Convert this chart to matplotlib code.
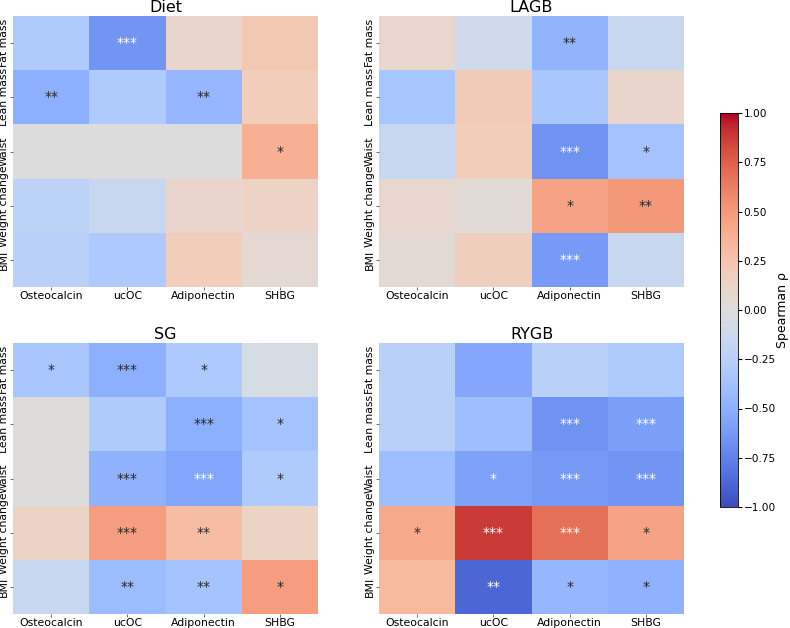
import numpy as np
import matplotlib
matplotlib.use("Agg")
import matplotlib.pyplot as plt

outcomes = ["Fat mass", "Lean mass", "Waist", "Weight change", "BMI"]
markers = ["Osteocalcin", "ucOC", "Adiponectin", "SHBG"]
groups = ["Diet", "LAGB", "SG", "RYGB"]

# Spearman rho per group (rows = outcomes, cols = markers)
rho_diet = [[-0.30, -0.65, 0.10, 0.22],
            [-0.50, -0.30, -0.45, 0.18],
            [0.00, 0.00, 0.00, 0.38],
            [-0.22, -0.15, 0.10, 0.13],
            [-0.24, -0.32, 0.18, 0.06]]
rho_lagb = [[0.08, -0.10, -0.47, -0.15],
            [-0.35, 0.20, -0.33, 0.10],
            [-0.15, 0.18, -0.67, -0.37],
            [0.08, 0.04, 0.45, 0.50],
            [0.05, 0.17, -0.62, -0.15]]
rho_sg = [[-0.33, -0.50, -0.32, -0.05],
          [0.01, -0.30, -0.50, -0.36],
          [0.01, -0.48, -0.56, -0.30],
          [0.12, 0.48, 0.30, 0.12],
          [-0.15, -0.42, -0.36, 0.48]]
rho_rygb = [[-0.25, -0.55, -0.25, -0.30],
            [-0.24, -0.40, -0.67, -0.60],
            [-0.40, -0.58, -0.63, -0.65],
            [0.42, 0.88, 0.68, 0.45],
            [0.32, -0.88, -0.45, -0.48]]

# significance stars
sig_diet = [["", "***", "", ""],
            ["**", "", "**", ""],
            ["", "", "", "*"],
            ["", "", "", ""],
            ["", "", "", ""]]
sig_lagb = [["", "", "**", ""],
            ["", "", "", ""],
            ["", "", "***", "*"],
            ["", "", "*", "**"],
            ["", "", "***", ""]]
sig_sg = [["*", "***", "*", ""],
          ["", "", "***", "*"],
          ["", "***", "***", "*"],
          ["", "***", "**", ""],
          ["", "**", "**", "*"]]
sig_rygb = [["", "", "", ""],
            ["", "", "***", "***"],
            ["", "*", "***", "***"],
            ["*", "***", "***", "*"],
            ["", "**", "*", "*"]]

rho_all = [rho_diet, rho_lagb, rho_sg, rho_rygb]
sig_all = [sig_diet, sig_lagb, sig_sg, sig_rygb]


def luminance(c):
    rgb = np.array(c[:3])
    rgb = np.where(rgb <= 0.03928, rgb / 12.92, ((rgb + 0.055) / 1.055) ** 2.4)
    return 0.2126 * rgb[0] + 0.7152 * rgb[1] + 0.0722 * rgb[2]


W, H = 790, 628
fig = plt.figure(figsize=(W / 100, H / 100), dpi=100)

# axes boxes in pixels: left, top
boxes = [(13, 16), (379, 16), (13, 343), (379, 343)]
aw, ah = 305, 271

cmap = plt.get_cmap("coolwarm")
norm = plt.Normalize(-1, 1)
for k, g in enumerate(groups):
    x0, y0 = boxes[k]
    ax = fig.add_axes([x0 / W, 1 - (y0 + ah) / H, aw / W, ah / H])
    data = np.array(rho_all[k])
    mesh = ax.pcolormesh(data, cmap=cmap, norm=norm)
    ax.set_xlim(0, len(markers))
    ax.set_ylim(len(outcomes), 0)
    for i in range(len(outcomes)):
        for j in range(len(markers)):
            s = sig_all[k][i][j]
            if s:
                col = "#262626" if luminance(cmap(norm(data[i, j]))) > 0.408 else "white"
                ax.text(j + 0.5, i + 0.5, s, ha="center", va="center",
                        fontsize=10, color=col)
    ax.set_xticks(np.arange(len(markers)) + 0.5)
    ax.set_xticklabels(markers, fontsize=7.8)
    ax.set_yticks(np.arange(len(outcomes)) + 0.5)
    ax.set_yticklabels(outcomes, fontsize=7.8, rotation=90, va="center")
    ax.tick_params(length=2, width=0.6, color="#555555", pad=1)
    for sp in ax.spines.values():
        sp.set_visible(False)
    ax.set_title(g, fontsize=11.5, pad=3)

cax = fig.add_axes([720 / W, 1 - 507 / H, 18 / W, 394 / H])
cb = fig.colorbar(mesh, cax=cax, ticks=np.linspace(-1, 1, 9))
cb.ax.tick_params(labelsize=7.6, length=3, pad=1)
cb.set_label("Spearman ρ", fontsize=9, labelpad=0)
cb.outline.set_linewidth(0.6)

fig.savefig("out.png", dpi=100)
